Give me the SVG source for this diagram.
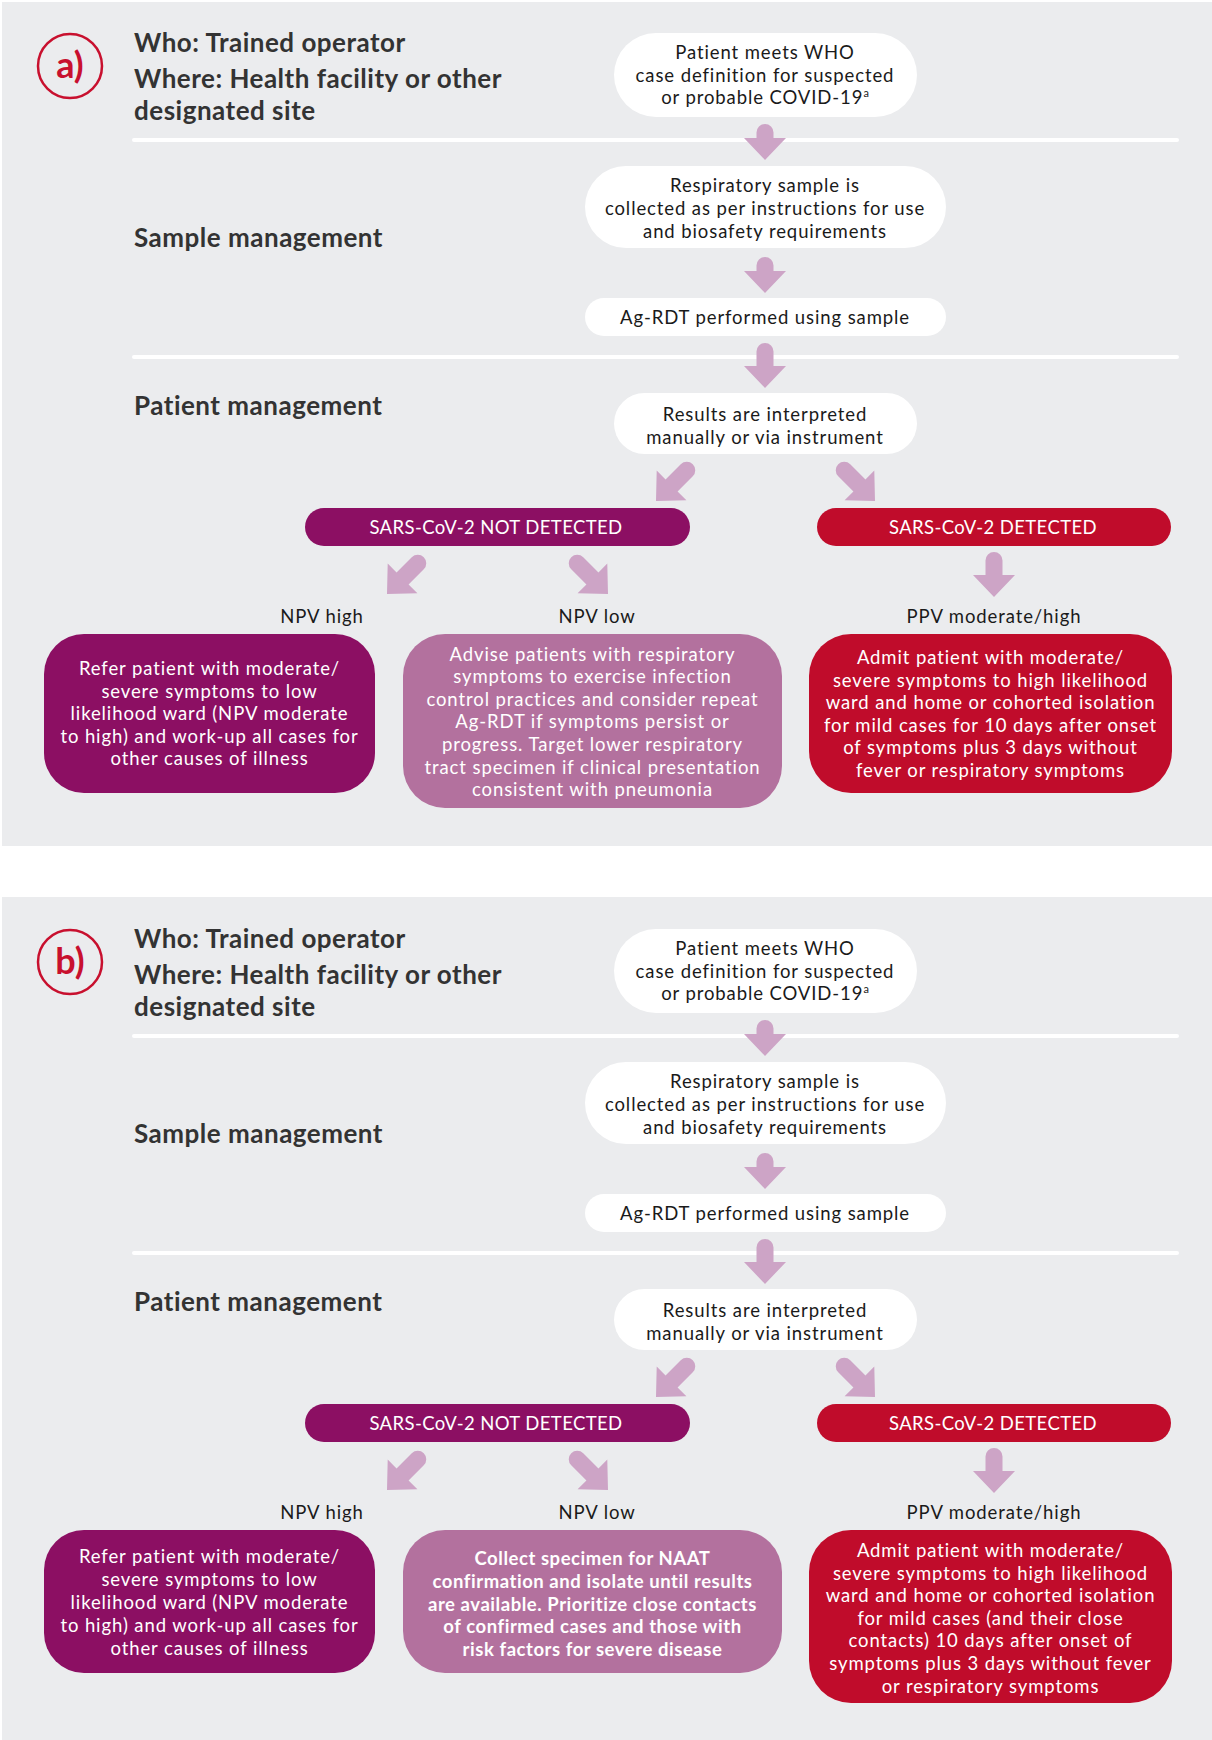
<svg xmlns="http://www.w3.org/2000/svg" width="1212" height="1740" viewBox="0 0 1212 1740">
<style>
.bg{fill:#EBECEE}
.sep{stroke:#FFFFFF;stroke-width:4;stroke-linecap:round}
.h{font-family:Lato,"Open Sans","Liberation Sans",sans-serif;font-weight:700;font-size:26px;letter-spacing:0.5px;fill:#333333}
.lbl{font-family:Lato,"Open Sans","Liberation Sans",sans-serif;font-weight:700;font-size:36px;fill:#C8102E;text-anchor:middle}
.circ{fill:none;stroke:#C8102E;stroke-width:2.5}
.t{font-family:Lato,"Open Sans","Liberation Sans",sans-serif;font-size:18.5px;letter-spacing:0.9px;fill:#1A1A1A;text-anchor:middle}
.tw{font-family:Lato,"Open Sans","Liberation Sans",sans-serif;font-size:18.5px;letter-spacing:0.9px;fill:#FFFFFF;text-anchor:middle}
.cap{letter-spacing:0.4px}
.tb{font-weight:700;letter-spacing:0.55px}
.sup{font-size:11px;letter-spacing:0}
.white{fill:#FFFFFF}
.purple{fill:#8C0F63}
.mauve{fill:#B3719E}
.red{fill:#C00C2B}
.arr{fill:#CDA4C6}
</style>
<defs>
<path id="a36" d="M0,0 L-21,-22 L-8.5,-22 L-8.5,-27.5 A8.5,8.5 0 0 1 8.5,-27.5 L8.5,-22 L21,-22 Z"/>
<path id="a45" d="M0,0 L-21,-22 L-8.5,-22 L-8.5,-36.5 A8.5,8.5 0 0 1 8.5,-36.5 L8.5,-22 L21,-22 Z"/>
<path id="a52" d="M0,0 L-21,-22 L-8.5,-22 L-8.5,-43.5 A8.5,8.5 0 0 1 8.5,-43.5 L8.5,-22 L21,-22 Z"/>
</defs>

<!-- ===== Panel a ===== -->
<g id="panel-a">
<rect class="bg" x="2" y="2" width="1210" height="844"/>
<line class="sep" x1="134" y1="140" x2="1177" y2="140"/>
<line class="sep" x1="134" y1="357" x2="1177" y2="357"/>
</g>
<g id="badge-a">
<circle class="circ" cx="70" cy="66" r="32"/>
<text class="lbl" x="70" y="78">a)</text>
</g>
<g id="headings-a">
<text class="h" x="134" y="52">Who: Trained operator</text>
<text class="h" x="134" y="88"><tspan x="134" y="88">Where: Health facility or other</tspan><tspan x="134" y="119.5">designated site</tspan></text>
<text class="h" x="134" y="247">Sample management</text>
<text class="h" x="134" y="415">Patient management</text>
</g>

<g id="a-n1">
<rect class="white" x="614" y="33" width="303" height="84" rx="42"/>
<text class="t" x="765" y="59"><tspan x="765" y="59">Patient meets WHO</tspan><tspan x="765" y="81.6">case definition for suspected</tspan><tspan x="765" y="104.2">or probable COVID-19<tspan class="sup" dy="-7">a</tspan></tspan></text>
</g>
<g id="a-n2">
<rect class="white" x="585" y="166" width="361" height="82" rx="41"/>
<text class="t" x="765" y="192.3"><tspan x="765" y="192.3">Respiratory sample is</tspan><tspan x="765" y="214.9">collected as per instructions for use</tspan><tspan x="765" y="237.5">and biosafety requirements</tspan></text>
</g>
<g id="a-n3">
<rect class="white" x="585" y="298" width="361" height="38" rx="19"/>
<text class="t" x="765" y="324">Ag-RDT performed using sample</text>
</g>
<g id="a-n4">
<rect class="white" x="614" y="393" width="303" height="61" rx="30.5"/>
<text class="t" x="765" y="421"><tspan x="765" y="421">Results are interpreted</tspan><tspan x="765" y="443.6">manually or via instrument</tspan></text>
</g>
<g id="a-n5">
<rect class="purple" x="305" y="508" width="385" height="38" rx="19"/>
<text class="tw cap" x="496" y="534">SARS-CoV-2 NOT DETECTED</text>
</g>
<g id="a-n6">
<rect class="red" x="817" y="508" width="354" height="38" rx="19"/>
<text class="tw cap" x="993" y="534">SARS-CoV-2 DETECTED</text>
</g>
<g id="a-labels">
<text class="t" x="322" y="623">NPV high</text>
<text class="t" x="597" y="623">NPV low</text>
<text class="t" x="994" y="623">PPV moderate/high</text>
</g>
<g id="a-n7">
<rect class="purple" x="44" y="634" width="331" height="159" rx="40"/>
<text class="tw" x="209.5" y="675"><tspan x="209.5" y="675">Refer patient with moderate/</tspan><tspan x="209.5" y="697.6">severe symptoms to low</tspan><tspan x="209.5" y="720.2">likelihood ward (NPV moderate</tspan><tspan x="209.5" y="742.8">to high) and work-up all cases for</tspan><tspan x="209.5" y="765.4">other causes of illness</tspan></text>
</g>
<g id="a-n8">
<rect class="mauve" x="403" y="634" width="379" height="174" rx="42"/>
<text class="tw" x="592.5" y="660.6"><tspan x="592.5" y="660.6">Advise patients with respiratory</tspan><tspan x="592.5" y="683.2">symptoms to exercise infection</tspan><tspan x="592.5" y="705.8">control practices and consider repeat</tspan><tspan x="592.5" y="728.4">Ag-RDT if symptoms persist or</tspan><tspan x="592.5" y="751">progress. Target lower respiratory</tspan><tspan x="592.5" y="773.6">tract specimen if clinical presentation</tspan><tspan x="592.5" y="796.2">consistent with pneumonia</tspan></text>
</g>
<g id="a-n9">
<rect class="red" x="809" y="634" width="363" height="159" rx="42"/>
<text class="tw" x="990.5" y="664"><tspan x="990.5" y="664">Admit patient with moderate/</tspan><tspan x="990.5" y="686.6">severe symptoms to high likelihood</tspan><tspan x="990.5" y="709.2">ward and home or cohorted isolation</tspan><tspan x="990.5" y="731.8">for mild cases for 10 days after onset</tspan><tspan x="990.5" y="754.4">of symptoms plus 3 days without</tspan><tspan x="990.5" y="777">fever or respiratory symptoms</tspan></text>
</g>

<!-- ===== Panel b ===== -->
<g id="panel-b">
<rect class="bg" x="2" y="897" width="1210" height="843"/>
<line class="sep" x1="134" y1="1036" x2="1177" y2="1036"/>
<line class="sep" x1="134" y1="1253" x2="1177" y2="1253"/>
</g>
<g id="badge-b">
<circle class="circ" cx="70" cy="962" r="32"/>
<text class="lbl" x="70" y="974">b)</text>
</g>
<g id="headings-b">
<text class="h" x="134" y="948">Who: Trained operator</text>
<text class="h" x="134" y="984"><tspan x="134" y="984">Where: Health facility or other</tspan><tspan x="134" y="1015.5">designated site</tspan></text>
<text class="h" x="134" y="1143">Sample management</text>
<text class="h" x="134" y="1311">Patient management</text>
</g>

<g id="b-n1">
<rect class="white" x="614" y="929" width="303" height="84" rx="42"/>
<text class="t" x="765" y="955"><tspan x="765" y="955">Patient meets WHO</tspan><tspan x="765" y="977.6">case definition for suspected</tspan><tspan x="765" y="1000.2">or probable COVID-19<tspan class="sup" dy="-7">a</tspan></tspan></text>
</g>
<g id="b-n2">
<rect class="white" x="585" y="1062" width="361" height="82" rx="41"/>
<text class="t" x="765" y="1088.3"><tspan x="765" y="1088.3">Respiratory sample is</tspan><tspan x="765" y="1110.9">collected as per instructions for use</tspan><tspan x="765" y="1133.5">and biosafety requirements</tspan></text>
</g>
<g id="b-n3">
<rect class="white" x="585" y="1194" width="361" height="38" rx="19"/>
<text class="t" x="765" y="1220">Ag-RDT performed using sample</text>
</g>
<g id="b-n4">
<rect class="white" x="614" y="1289" width="303" height="61" rx="30.5"/>
<text class="t" x="765" y="1317"><tspan x="765" y="1317">Results are interpreted</tspan><tspan x="765" y="1339.6">manually or via instrument</tspan></text>
</g>
<g id="b-n5">
<rect class="purple" x="305" y="1404" width="385" height="38" rx="19"/>
<text class="tw cap" x="496" y="1430">SARS-CoV-2 NOT DETECTED</text>
</g>
<g id="b-n6">
<rect class="red" x="817" y="1404" width="354" height="38" rx="19"/>
<text class="tw cap" x="993" y="1430">SARS-CoV-2 DETECTED</text>
</g>
<g id="b-labels">
<text class="t" x="322" y="1519">NPV high</text>
<text class="t" x="597" y="1519">NPV low</text>
<text class="t" x="994" y="1519">PPV moderate/high</text>
</g>
<g id="b-n7">
<rect class="purple" x="44" y="1530" width="331" height="143" rx="40"/>
<text class="tw" x="209.5" y="1563.3"><tspan x="209.5" y="1563.3">Refer patient with moderate/</tspan><tspan x="209.5" y="1586.2">severe symptoms to low</tspan><tspan x="209.5" y="1609.1">likelihood ward (NPV moderate</tspan><tspan x="209.5" y="1632">to high) and work-up all cases for</tspan><tspan x="209.5" y="1654.9">other causes of illness</tspan></text>
</g>
<g id="b-n8">
<rect class="mauve" x="403" y="1530" width="379" height="143" rx="42"/>
<text class="tw tb" x="592.5" y="1565"><tspan x="592.5" y="1565">Collect specimen for NAAT</tspan><tspan x="592.5" y="1587.75">confirmation and isolate until results</tspan><tspan x="592.5" y="1610.5">are available. Prioritize close contacts</tspan><tspan x="592.5" y="1633.25">of confirmed cases and those with</tspan><tspan x="592.5" y="1656">risk factors for severe disease</tspan></text>
</g>
<g id="b-n9">
<rect class="red" x="809" y="1530" width="363" height="173" rx="42"/>
<text class="tw" x="990.5" y="1557"><tspan x="990.5" y="1557">Admit patient with moderate/</tspan><tspan x="990.5" y="1579.6">severe symptoms to high likelihood</tspan><tspan x="990.5" y="1602.2">ward and home or cohorted isolation</tspan><tspan x="990.5" y="1624.8">for mild cases (and their close</tspan><tspan x="990.5" y="1647.4">contacts) 10 days after onset of</tspan><tspan x="990.5" y="1670">symptoms plus 3 days without fever</tspan><tspan x="990.5" y="1692.6">or respiratory symptoms</tspan></text>
</g>

<!-- ===== Connectors ===== -->
<g id="connectors" class="arr">
<use href="#a36" transform="translate(765,160)"/>
<use href="#a36" transform="translate(765,293)"/>
<use href="#a45" transform="translate(765,388)"/>
<use href="#a52" transform="translate(656,501) rotate(45)"/>
<use href="#a52" transform="translate(875,501) rotate(-45)"/>
<use href="#a52" transform="translate(387,594) rotate(45)"/>
<use href="#a52" transform="translate(608,594) rotate(-45)"/>
<use href="#a45" transform="translate(994,597)"/>

<use href="#a36" transform="translate(765,1056)"/>
<use href="#a36" transform="translate(765,1189)"/>
<use href="#a45" transform="translate(765,1284)"/>
<use href="#a52" transform="translate(656,1397) rotate(45)"/>
<use href="#a52" transform="translate(875,1397) rotate(-45)"/>
<use href="#a52" transform="translate(387,1490) rotate(45)"/>
<use href="#a52" transform="translate(608,1490) rotate(-45)"/>
<use href="#a45" transform="translate(994,1493)"/>
</g>
</svg>
